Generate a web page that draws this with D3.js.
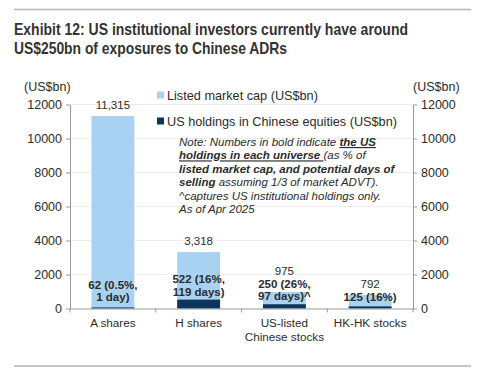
<!DOCTYPE html>
<html>
<head>
<meta charset="utf-8">
<script src="https://cdn.jsdelivr.net/npm/d3@7"></script>
<style>
  html, body { margin: 0; padding: 0; background: #fff; }
  svg { display: block; }
  text { font-family: "Liberation Sans", Arial, sans-serif; fill: #2b2b2b; }
</style>
</head>
<body>
<svg id="chart" width="486" height="368"></svg>
<script>
// ---- data ----
const categories = ["A shares", "H shares", "US-listed\nChinese stocks", "HK-HK stocks"];
const marketCap = [11315, 3318, 975, 792];
const usHoldings = [62, 522, 250, 125];
const marketCapLabels = ["11,315", "3,318", "975", "792"];
const holdingLabels = [["62 (0.5%,", "1 day)"], ["522 (16%,", "119 days)"], ["250 (26%,", "97 days)^"], ["125 (16%)"]];
const yTicks = [0, 2000, 4000, 6000, 8000, 10000, 12000];
const seriesNames = ["Listed market cap (US$bn)", "US holdings in Chinese equities (US$bn)"];
const titleLines = ["Exhibit 12: US institutional investors currently have around", "US$250bn of exposures to Chinese ADRs"];

const lightBlue = "#a9d1f1";
const navy = "#0c355c";
const axisGrey = "#9a9a9a";

const svg = d3.select("#chart");

// rules
svg.append("line").attr("x1", 14).attr("x2", 471).attr("y1", 9.5).attr("y2", 9.5)
  .attr("stroke", "#b5b5b5").attr("stroke-width", 1.5);
svg.append("line").attr("x1", 14).attr("x2", 471).attr("y1", 366).attr("y2", 366)
  .attr("stroke", "#b5b5b5").attr("stroke-width", 1.5);

// title (condensed via textLength, no narrow font installed)
const titleWidths = [394, 273];
titleLines.forEach((t, i) => {
  svg.append("text").attr("x", 14).attr("y", 34.5 + i * 19)
    .attr("textLength", titleWidths[i]).attr("lengthAdjust", "spacingAndGlyphs")
    .style("font-weight", "bold").style("font-size", "17px").style("fill", "#333")
    .text(t);
});

// scales
const x = d3.scaleBand().domain(categories).range([70, 413]).paddingInner(0.5).paddingOuter(0.25);
const y = d3.scaleLinear().domain([0, 12000]).range([308.5, 104.5]);

// gridlines
svg.append("g").selectAll("line").data(yTicks.filter(d => d > 0)).join("line")
  .attr("x1", 70).attr("x2", 413)
  .attr("y1", d => y(d)).attr("y2", d => y(d))
  .attr("stroke", "#ececec").attr("stroke-width", 1);

// axes
const leftAxis = d3.axisLeft(y).tickValues(yTicks).tickFormat(d3.format("d")).tickSizeInner(4).tickSizeOuter(0).tickPadding(4);
const rightAxis = d3.axisRight(y).tickValues(yTicks).tickFormat(d3.format("d")).tickSizeInner(4).tickSizeOuter(0).tickPadding(4);

const gl = svg.append("g").attr("transform", "translate(70,0)").call(leftAxis);
const gr = svg.append("g").attr("transform", "translate(413,0)").call(rightAxis);
[gl, gr].forEach(g => {
  g.select(".domain").attr("stroke", axisGrey);
  g.selectAll(".tick line").attr("stroke", axisGrey);
  g.selectAll(".tick text").style("font-size", "12.5px").style("fill", "#2b2b2b")
    .style("font-family", "'Liberation Sans', Arial, sans-serif");
});

// bars
const bars = svg.append("g");
bars.selectAll("rect.cap").data(categories).join("rect").attr("class", "cap")
  .attr("x", d => x(d)).attr("width", x.bandwidth())
  .attr("y", (d, i) => y(marketCap[i])).attr("height", (d, i) => y(0) - y(marketCap[i]))
  .attr("fill", lightBlue);
bars.selectAll("rect.hold").data(categories).join("rect").attr("class", "hold")
  .attr("x", d => x(d)).attr("width", x.bandwidth())
  .attr("y", (d, i) => y(usHoldings[i])).attr("height", (d, i) => y(0) - y(usHoldings[i]))
  .attr("fill", navy);

// x axis
const xAxis = d3.axisBottom(x).tickSize(0).tickFormat("");
const gx = svg.append("g").attr("transform", `translate(0,${y(0)})`).call(xAxis);
gx.select(".domain").attr("stroke", axisGrey);
// band boundary ticks
const bounds = [70].concat(categories.map(c => x(c) + x.bandwidth() + x.step() * x.paddingInner() / 2));
bounds[bounds.length - 1] = 413;
svg.append("g").selectAll("line").data(bounds).join("line")
  .attr("x1", d => d).attr("x2", d => d).attr("y1", y(0)).attr("y2", y(0) + 4)
  .attr("stroke", axisGrey);

// x labels
categories.forEach(c => {
  const lines = c.split("\n");
  lines.forEach((l, j) => {
    svg.append("text").attr("x", x(c) + x.bandwidth() / 2).attr("y", 327 + j * 14)
      .attr("text-anchor", "middle").style("font-size", "11.7px").text(l);
  });
});

// holdings labels (bold) and market cap labels
categories.forEach((c, i) => {
  const lines = holdingLabels[i];
  const cx = x(c) + x.bandwidth() / 2;
  const base = Math.min(y(usHoldings[i]) - 4, 301);
  const firstBase = base - (lines.length - 1) * 12.5;
  lines.forEach((l, j) => {
    svg.append("text").attr("x", cx)
      .attr("y", firstBase + j * 12.5)
      .attr("text-anchor", "middle").style("font-size", "11.5px").style("font-weight", "bold")
      .text(l);
  });
  const capY = Math.min(y(marketCap[i]) - 7, firstBase - 13);
  svg.append("text").attr("x", cx).attr("y", capY)
    .attr("text-anchor", "middle").style("font-size", "11.5px").text(marketCapLabels[i]);
});

// y unit labels
svg.append("text").attr("x", 24).attr("y", 91).style("font-size", "12.5px").text("(US$bn)");
svg.append("text").attr("x", 413).attr("y", 91).style("font-size", "12.5px").text("(US$bn)");

// legend
const legendColors = [lightBlue, navy];
seriesNames.forEach((s, i) => {
  const ly = 95 + i * 26;
  svg.append("rect").attr("x", 157).attr("y", ly - 3.5).attr("width", 7).attr("height", 7).attr("fill", legendColors[i]);
  svg.append("text").attr("x", 167).attr("y", ly + 4.5).style("font-size", "12.7px").text(s);
});

// note
const note = svg.append("text").attr("x", 179).attr("y", 146).style("font-size", "11.5px").style("font-style", "italic");
const noteLines = [
  [["Note: Numbers in bold indicate ", false, false], ["the US", true, true]],
  [["holdings in each universe ", true, true], ["(as % of", false, false]],
  [["listed market cap, and potential days of", true, false]],
  [["selling", true, false], [" assuming 1/3 of market ADVT).", false, false]],
  [["^captures US institutional holdings only.", false, false]],
  [["As of Apr 2025", false, false]]
];
noteLines.forEach((segs, i) => {
  segs.forEach((sg, k) => {
    const ts = note.append("tspan").text(sg[0]);
    if (k === 0) ts.attr("x", 179).attr("y", 146 + i * 13.4);
    if (sg[1]) ts.style("font-weight", "bold");
    if (sg[2]) ts.style("text-decoration", "underline");
  });
});
</script>
</body>
</html>
